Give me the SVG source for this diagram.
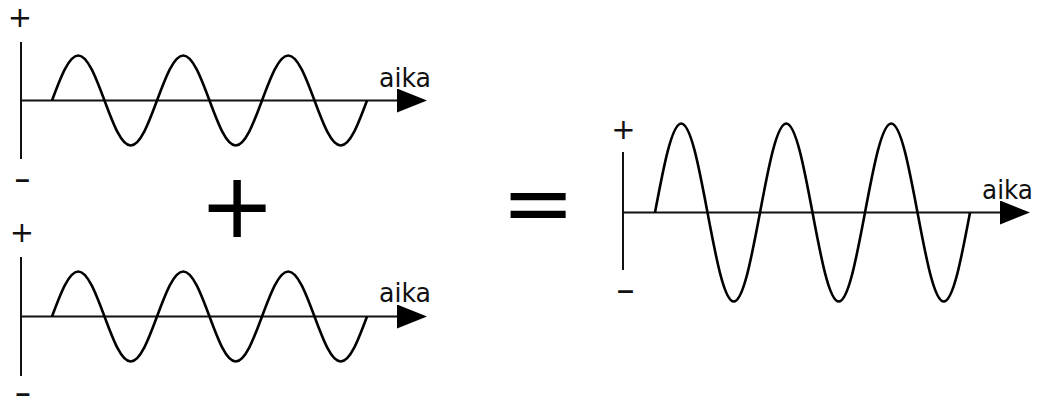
<svg xmlns="http://www.w3.org/2000/svg" width="1042" height="405" viewBox="0 0 1042 405">
<style>
.axis{stroke:#111;stroke-width:2;fill:none}
.wave{stroke:#000;stroke-width:2.6;fill:none;stroke-linejoin:round}
.t{font-family:"DejaVu Sans",Verdana,sans-serif;fill:#111}
.sign{font-size:29px;text-anchor:middle}
.dash{font-size:19px;font-weight:bold;text-anchor:middle}
.aika{font-size:26px}
.op{text-anchor:middle;fill:#000}
</style>
<defs>
<marker id="arrow" markerUnits="userSpaceOnUse" markerWidth="30" markerHeight="24" refX="23" refY="12" orient="auto">
<path d="M0,0 L30,12 L0,24 Z" fill="#000"/>
</marker>
</defs>
<rect width="1042" height="405" fill="#fff"/>

<g id="wave-top">
<line class="axis" x1="21" y1="42" x2="21" y2="159"/>
<line class="axis" x1="21" y1="100.5" x2="420" y2="100.5" marker-end="url(#arrow)"/>
<path class="wave" d="M52,100.5 c8.56,-23.05 16.79,-45 26.25,-45 c9.46,0 17.69,21.95 26.25,45 c8.56,23.05 16.79,45 26.25,45 c9.46,0 17.69,-21.95 26.25,-45 c8.56,-23.05 16.79,-45 26.25,-45 c9.46,0 17.69,21.95 26.25,45 c8.56,23.05 16.79,45 26.25,45 c9.46,0 17.69,-21.95 26.25,-45 c8.56,-23.05 16.79,-45 26.25,-45 c9.46,0 17.69,21.95 26.25,45 c8.56,23.05 16.79,45 26.25,45 c9.46,0 17.69,-21.95 26.25,-45"/>
<text class="t sign" x="20" y="26.6">+</text>
<text class="t dash" x="22.5" y="186.3" textLength="17.3" lengthAdjust="spacingAndGlyphs">-</text>
<text class="t aika" x="379" y="87" textLength="52" lengthAdjust="spacingAndGlyphs">aika</text>
</g>

<g id="plus-op">
<text class="t op" x="237" y="236.5" font-size="91">+</text>
</g>

<g id="wave-bottom">
<line class="axis" x1="21" y1="257" x2="21" y2="376"/>
<line class="axis" x1="21" y1="316.5" x2="420" y2="316.5" marker-end="url(#arrow)"/>
<path class="wave" d="M52,316.5 c8.56,-23.05 16.79,-45 26.25,-45 c9.46,0 17.69,21.95 26.25,45 c8.56,23.05 16.79,45 26.25,45 c9.46,0 17.69,-21.95 26.25,-45 c8.56,-23.05 16.79,-45 26.25,-45 c9.46,0 17.69,21.95 26.25,45 c8.56,23.05 16.79,45 26.25,45 c9.46,0 17.69,-21.95 26.25,-45 c8.56,-23.05 16.79,-45 26.25,-45 c9.46,0 17.69,21.95 26.25,45 c8.56,23.05 16.79,45 26.25,45 c9.46,0 17.69,-21.95 26.25,-45"/>
<text class="t sign" x="22" y="242">+</text>
<text class="t dash" x="23" y="400.3" textLength="17.3" lengthAdjust="spacingAndGlyphs">-</text>
<text class="t aika" x="379" y="302" textLength="52" lengthAdjust="spacingAndGlyphs">aika</text>
</g>

<g id="equals-op">
<text class="t op" x="538" y="233" font-size="88">=</text>
</g>

<g id="wave-sum">
<line class="axis" x1="623" y1="152" x2="623" y2="270"/>
<line class="axis" x1="623" y1="212.5" x2="1023" y2="212.5" marker-end="url(#arrow)"/>
<path class="wave" d="M655,212.5 c8.56,-45.6 16.79,-89 26.25,-89 c9.46,0 17.69,43.4 26.25,89 c8.56,45.6 16.79,89 26.25,89 c9.46,0 17.69,-43.4 26.25,-89 c8.56,-45.6 16.79,-89 26.25,-89 c9.46,0 17.69,43.4 26.25,89 c8.56,45.6 16.79,89 26.25,89 c9.46,0 17.69,-43.4 26.25,-89 c8.56,-45.6 16.79,-89 26.25,-89 c9.46,0 17.69,43.4 26.25,89 c8.56,45.6 16.79,89 26.25,89 c9.46,0 17.69,-43.4 26.25,-89"/>
<text class="t sign" x="623.5" y="138.6">+</text>
<text class="t dash" x="625.5" y="297.3" textLength="20" lengthAdjust="spacingAndGlyphs">-</text>
<text class="t aika" x="982" y="199" textLength="51" lengthAdjust="spacingAndGlyphs">aika</text>
</g>
</svg>
